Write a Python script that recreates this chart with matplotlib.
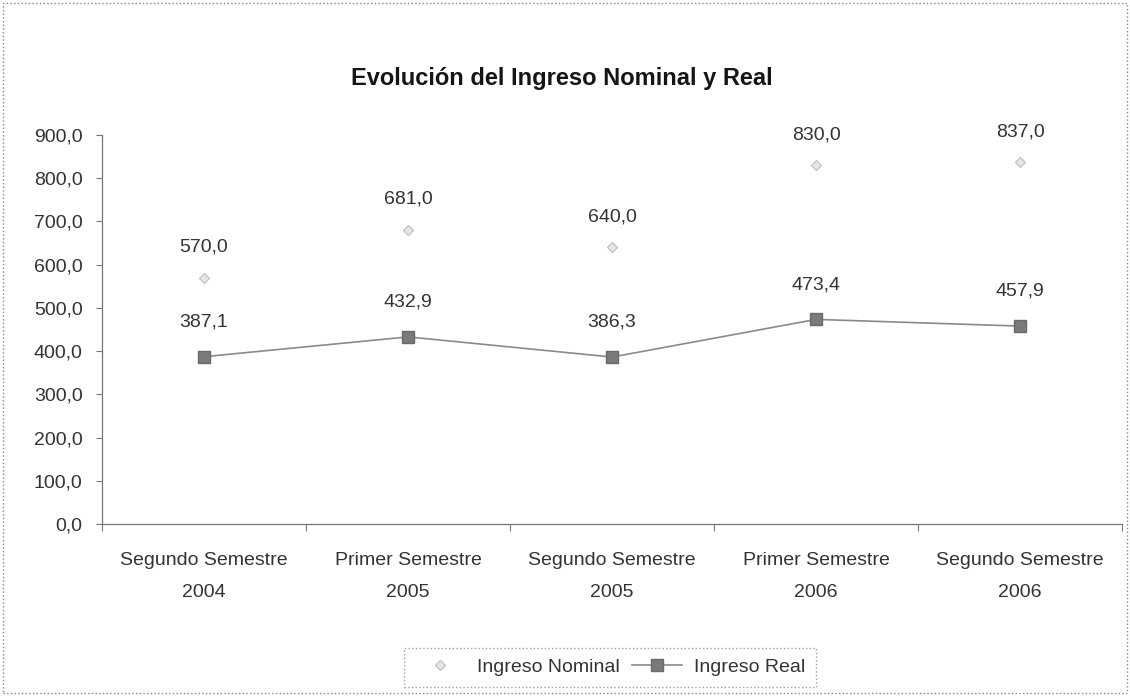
""" Evolución del ingreso nominal y real por semestre """

import matplotlib
matplotlib.use("Agg")
import matplotlib.pyplot as plt
from matplotlib.patches import Rectangle
from matplotlib.ticker import FuncFormatter, MultipleLocator

semestres = [
    "Segundo Semestre\n2004",
    "Primer Semestre\n2005",
    "Segundo Semestre\n2005",
    "Primer Semestre\n2006",
    "Segundo Semestre\n2006",
]
ingreso_nominal = [570.0, 681.0, 640.0, 830.0, 837.0]
ingreso_real = [387.1, 432.9, 386.3, 473.4, 457.9]


def coma(valor):
    """Formato con coma decimal"""
    return f"{valor:.1f}".replace(".", ",")


plt.rcParams["font.family"] = ["Liberation Sans", "DejaVu Sans"]

fig = plt.figure(figsize=(11.3, 6.97), dpi=100)
ax = fig.add_axes([0.0903, 0.2482, 0.9027, 0.5581])

xpos = range(len(semestres))
ax.plot(xpos, ingreso_nominal, linestyle="none", marker="D", markersize=5.5,
        markerfacecolor="#e6e6e6", markeredgecolor="#bcbcbc",
        markeredgewidth=0.8, label="Ingreso Nominal")
ax.plot(xpos, ingreso_real, color="#8a8a8a", linewidth=1.2, marker="s",
        markersize=8, markerfacecolor="#7a7a7a", markeredgecolor="#6a6a6a",
        label="Ingreso Real")

for x, v in zip(xpos, ingreso_nominal):
    ax.annotate(coma(v), (x, v), xytext=(0, 22), textcoords="offset points",
                ha="center", va="center", fontsize=14, color="#333333")
for x, v in zip(xpos, ingreso_real):
    ax.annotate(coma(v), (x, v), xytext=(0, 25), textcoords="offset points",
                ha="center", va="center", fontsize=14, color="#333333")

ax.set_xlim(-0.5, len(semestres) - 0.5)
ax.set_ylim(0, 900)
ax.yaxis.set_major_locator(MultipleLocator(100))
ax.yaxis.set_major_formatter(FuncFormatter(lambda v, p: coma(v)))

# etiquetas de categoría centradas, marcas en los bordes
ax.set_xticks([i - 0.5 for i in range(len(semestres) + 1)])
ax.set_xticklabels([])
ax.set_xticks(list(xpos), minor=True)
ax.set_xticklabels(semestres, minor=True, fontsize=14, color="#333333",
                   linespacing=2.2)
ax.tick_params(axis="x", which="minor", length=0, pad=20)
ax.tick_params(axis="x", which="major", length=5, color="#777777", direction="out")
ax.tick_params(axis="y", length=4, color="#777777", labelsize=14,
               labelcolor="#333333", pad=10)

for lado in ["top", "right"]:
    ax.spines[lado].set_visible(False)
for lado in ["left", "bottom"]:
    ax.spines[lado].set_color("#777777")
    ax.spines[lado].set_linewidth(0.9)

fig.text(0.497, 0.888, "Evolución del Ingreso Nominal y Real", ha="center",
         va="center", fontsize=17, fontweight="bold", color="#151515")

leg = fig.legend(loc="center", bbox_to_anchor=(0.54, 0.043), ncol=2,
                 fontsize=14, frameon=True, fancybox=False, handlelength=2.6,
                 columnspacing=0.6, handletextpad=0.6, borderpad=0.55,
                 borderaxespad=0)
leg.get_frame().set_edgecolor("#888888")
leg.get_frame().set_linestyle(":")
leg.get_frame().set_linewidth(1.0)
for t in leg.get_texts():
    t.set_color("#333333")

# borde punteado del gráfico
fig.patches.append(Rectangle((0.003, 0.006), 0.994, 0.99, transform=fig.transFigure,
                             fill=False, edgecolor="#888888", linestyle=":",
                             linewidth=1.0))

plt.savefig("out.png", dpi=100)
